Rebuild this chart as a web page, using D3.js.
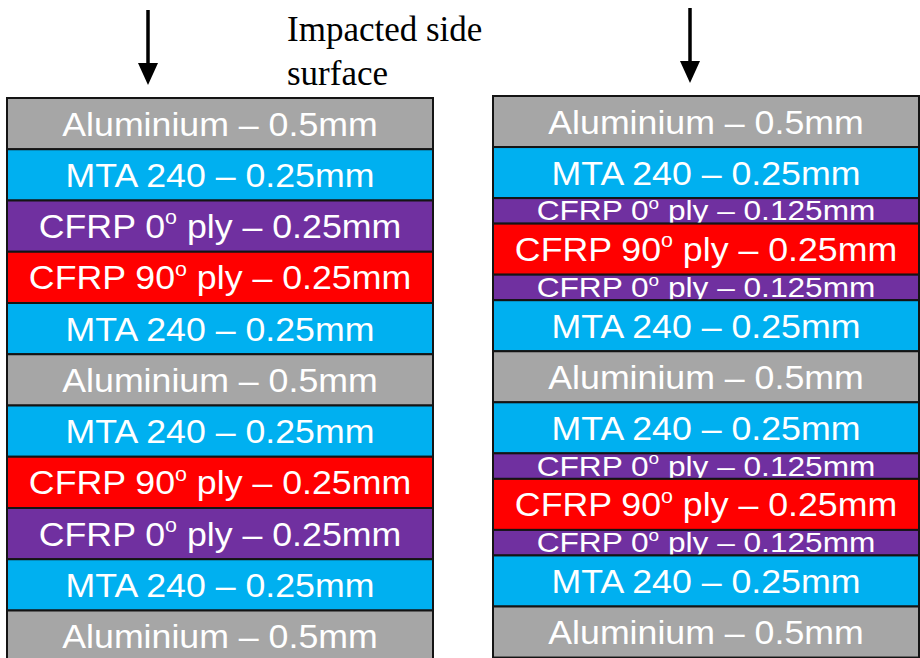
<!DOCTYPE html>
<html>
<head>
<meta charset="utf-8">
<script src="https://cdn.jsdelivr.net/npm/d3@7/dist/d3.min.js"></script>
<style>
  html, body { margin: 0; padding: 0; background: #fff; }
  svg { display: block; }
</style>
</head>
<body>
<svg id="chart" width="920" height="658"></svg>
<script>
// ---- data ----
const stacks = ["Left laminate", "Right laminate"];
const leftLayers = ["Al", "MTA", "C0", "C90", "MTA", "Al", "MTA", "C90", "C0", "MTA", "Al"];
const leftThick  = ["0.5", "0.25", "0.25", "0.25", "0.25", "0.5", "0.25", "0.25", "0.25", "0.25", "0.5"];
const leftDrawn  = [1, 1, 1, 1, 1, 1, 1, 1, 1, 1, 1];
const rightLayers = ["Al", "MTA", "C0", "C90", "C0", "MTA", "Al", "MTA", "C0", "C90", "C0", "MTA", "Al"];
const rightThick  = ["0.5", "0.25", "0.125", "0.25", "0.125", "0.25", "0.5", "0.25", "0.125", "0.25", "0.125", "0.25", "0.5"];
const rightDrawn  = [1, 1, 0.5, 1, 0.5, 1, 1, 1, 0.5, 1, 0.5, 1, 1];
const annotation = ["Impacted side", "surface"];

const materialName = { Al: "Aluminium", MTA: "MTA 240", C0: "CFRP 0", C90: "CFRP 90" };
const colors = { Al: "#a6a6a6", MTA: "#00b0f0", C0: "#7030a0", C90: "#ff0000" };

// ---- layout ----
const svg = d3.select("#chart");

const x = d3.scaleBand().domain(stacks).range([7, 919]).paddingInner(60 / 486).paddingOuter(0);

const stackCfg = [
  { name: stacks[0], layers: leftLayers, thick: leftThick, drawn: leftDrawn, top: 98, unit: 51.25, arrowX: 148, arrowTop: 10, arrowBot: 85 },
  { name: stacks[1], layers: rightLayers, thick: rightThick, drawn: rightDrawn, top: 96, unit: 51.05, arrowX: 690, arrowTop: 8, arrowBot: 83 }
];

stackCfg.forEach(cfg => {
  const total = d3.sum(cfg.drawn);
  const y = d3.scaleLinear().domain([0, total]).range([cfg.top, cfg.top + total * cfg.unit]);
  const cum = d3.cumsum(cfg.drawn);
  const x0 = x(cfg.name), bw = x.bandwidth();
  const cx = x0 + bw / 2;
  const g = svg.append("g");

  cfg.layers.forEach((m, i) => {
    const start = i === 0 ? 0 : cum[i - 1];
    const end = cum[i];
    const y0 = y(start), y1 = y(end);
    const thin = cfg.drawn[i] < 1;
    g.append("rect")
      .attr("x", x0).attr("y", y0)
      .attr("width", bw).attr("height", y1 - y0)
      .attr("fill", colors[m])
      .attr("stroke", "#141414")
      .attr("stroke-width", 2);

    const fs = thin ? 28 : 34;
    const sx = thin ? 1.13 : 1.05;
    const base = (y0 + y1) / 2 + (thin ? 9.5 : 12);
    const t = g.append("text")
      .attr("transform", `translate(${cx},${base}) scale(${sx},1)`)
      .attr("text-anchor", "middle")
      .attr("font-family", "'Liberation Sans', Arial, sans-serif")
      .attr("font-size", fs)
      .attr("fill", "#ffffff");
    if (m === "C0" || m === "C90") {
      t.append("tspan").text(materialName[m]);
      t.append("tspan").attr("font-size", fs * 0.6).attr("baseline-shift", fs * 0.4).text("o");
      t.append("tspan").text(" ply \u2013 " + cfg.thick[i] + "mm");
    } else {
      t.text(materialName[m] + " \u2013 " + cfg.thick[i] + "mm");
    }
  });

  // impact arrow
  const headH = 22, headW = 10;
  svg.append("line")
    .attr("x1", cfg.arrowX).attr("x2", cfg.arrowX)
    .attr("y1", cfg.arrowTop).attr("y2", cfg.arrowBot - headH + 2)
    .attr("stroke", "#000").attr("stroke-width", 3.5);
  svg.append("path")
    .attr("d", `M${cfg.arrowX - headW},${cfg.arrowBot - headH} L${cfg.arrowX + headW},${cfg.arrowBot - headH} L${cfg.arrowX},${cfg.arrowBot} Z`)
    .attr("fill", "#000");
});

// annotation text
const ann = svg.append("text")
  .attr("font-family", "'Liberation Serif', 'Times New Roman', serif")
  .attr("font-size", 35)
  .attr("fill", "#000");
annotation.forEach((line, i) => {
  ann.append("tspan").attr("x", 287).attr("y", 41 + i * 44).text(line);
});
</script>
</body>
</html>
